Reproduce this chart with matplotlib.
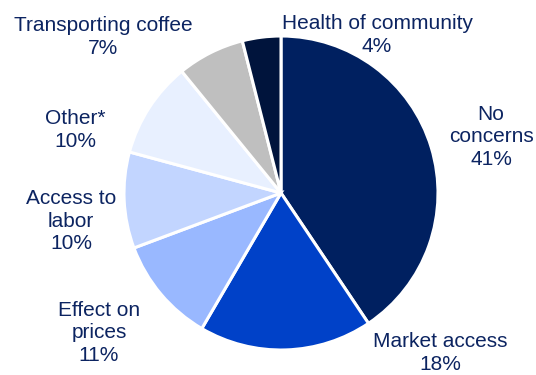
import matplotlib.pyplot as plt

# Share of respondents by main concern
categories = ['No\nconcerns', 'Market access', 'Effect on\nprices', 'Access to\nlabor',
              'Other*', 'Transporting coffee', 'Health of community']
shares = [41, 18, 11, 10, 10, 7, 4]
colors = ['#002060', '#0041C8', '#99B8FF', '#C2D5FF', '#E8F0FF', '#BFBFBF', '#00143C']

# label anchor points in figure pixels (x, y from top)
label_pos = [(491, 137), (440, 353), (99, 333), (71, 221), (75, 130), (103, 37), (377, 35)]

plt.rcParams['font.family'] = ['Liberation Sans', 'DejaVu Sans']
W, H = 536, 375
fig = plt.figure(figsize=(W / 100, H / 100), dpi=100)

cx, cy, r = 281, 193, 157
ax = fig.add_axes([(cx - r) / W, (H - cy - r) / H, 2 * r / W, 2 * r / H])
ax.pie(shares, colors=colors, startangle=90, counterclock=False, radius=1,
       wedgeprops=dict(edgecolor='white', linewidth=2.2))
ax.set_xlim(-1, 1)
ax.set_ylim(-1, 1)
ax.set_aspect('equal')
ax.axis('off')

for name, val, (px, py) in zip(categories, shares, label_pos):
    fig.text(px / W, 1 - py / H, f'{name}\n{val}%', ha='center', va='center',
             fontsize=15, color='#0C2461', linespacing=1.25)

fig.savefig('out.png', dpi=100)
